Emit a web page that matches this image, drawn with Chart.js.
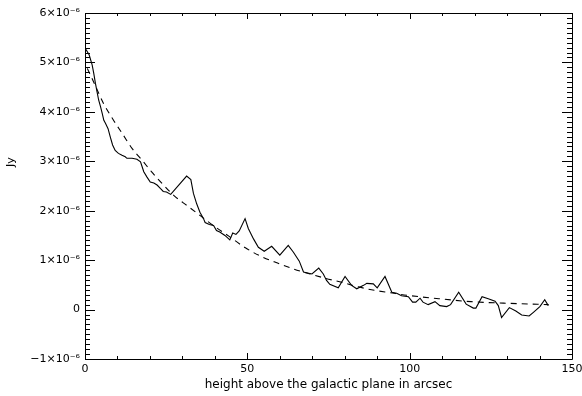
<!DOCTYPE html>
<html>
<head>
<meta charset="utf-8">
<script src="https://cdn.jsdelivr.net/npm/chart.js@4"></script>
<style>
  html, body { margin: 0; padding: 0; background: #ffffff; }
  #wrap { width: 582px; height: 396px; }
</style>
</head>
<body>
<div id="wrap"><canvas id="c" width="582" height="396"></canvas></div>
<script>
// Height above the galactic plane (arcsec)
const profileX = [0, 0.4, 1.3, 2.2, 2.7, 3.2, 3.7, 4.2, 4.8, 5.3, 5.8, 6.3, 7.1, 7.8, 8.5, 9.3, 10.3, 11.4, 12.4, 12.9,
  14.5, 16.0, 17.1, 17.6, 18.1, 19.1, 20.1, 21.2, 22.2, 23.2, 24.1, 25.1, 26.4, 31.3, 32.6, 33.4, 34.4, 35.4, 36.5, 37.0,
  38.3, 39.6, 40.5, 41.5, 43.1, 44.6, 45.5, 46.5, 47.5, 49.3, 50.3, 51.9, 53.4, 55.2, 57.5, 60.0, 62.6, 64.2, 66.0, 67.3,
  69.9, 72.0, 73.4, 74.4, 75.4, 78.0, 80.1, 82.1, 83.7, 85.8, 86.8, 88.8, 90.0, 92.4, 94.5, 96.0, 97.5, 99.6, 100.9, 101.9,
  103.2, 104.1, 105.7, 107.8, 109.3, 111.4, 112.6, 115.1, 117.4, 119.6, 120.4, 122.3, 124.2, 126.3, 127.3, 128.3, 130.7, 132.7, 134.5, 136.8,
  138.2, 140.1, 141.6, 142.7];
// Measured flux (units of 1e-6 Jy)
const profileY = [5.30, 5.25, 5.15, 4.95, 4.78, 4.58, 4.41, 4.24, 4.10, 3.97, 3.83, 3.77, 3.66, 3.49, 3.33, 3.22, 3.16, 3.12, 3.09, 3.06,
  3.06, 3.04, 2.99, 2.89, 2.79, 2.68, 2.58, 2.56, 2.52, 2.45, 2.39, 2.38, 2.33, 2.70, 2.63, 2.35, 2.14, 1.97, 1.84, 1.76,
  1.72, 1.70, 1.60, 1.57, 1.50, 1.41, 1.55, 1.52, 1.59, 1.84, 1.64, 1.43, 1.26, 1.18, 1.28, 1.10, 1.30, 1.16, 0.98, 0.76,
  0.72, 0.84, 0.72, 0.59, 0.51, 0.44, 0.67, 0.49, 0.42, 0.49, 0.53, 0.52, 0.44, 0.67, 0.35, 0.33, 0.28, 0.26, 0.15, 0.15,
  0.23, 0.15, 0.10, 0.16, 0.08, 0.06, 0.10, 0.35, 0.11, 0.03, 0.03, 0.26, 0.22, 0.17, 0.08, -0.16, 0.04, -0.03, -0.11, -0.13,
  -0.05, 0.06, 0.20, 0.08];
// Fitted curve (dashed)
const fitX = [0.7, 2.7, 5.7, 8.6, 11.6, 14.6, 17.6, 20.6, 23.5, 27.5, 31.5, 35.5, 39.5, 44.4, 49.4, 54.4, 59.3, 64.3, 69.3, 74.2,
  79.2, 84.2, 89.1, 94.1, 99.1, 109.0, 118.9, 128.9, 142.8];
const fitY = [4.88, 4.60, 4.17, 3.85, 3.55, 3.25, 3.02, 2.78, 2.57, 2.30, 2.10, 1.90, 1.70, 1.48, 1.25, 1.07, 0.94, 0.82, 0.72, 0.63,
  0.55, 0.46, 0.39, 0.34, 0.29, 0.22, 0.16, 0.13, 0.10];
// Axis ticks
const xTicks = [0, 50, 100, 150];
const yTicks = [-1, 0, 1, 2, 3, 4, 5, 6];
const sup = {'-': '\u207B', '0': '\u2070', '1': '\u00B9', '2': '\u00B2', '3': '\u00B3', '4': '\u2074', '5': '\u2075', '6': '\u2076', '7': '\u2077', '8': '\u2078', '9': '\u2079'};
const expo = '-6';
const expoStr = expo.split('').map(c => sup[c]).join('');
const xTitle = 'height above the galactic plane in arcsec';
const yTitle = 'Jy';

const FONT = "'DejaVu Sans', sans-serif";

const tickPlugin = {
  id: 'idlTicks',
  afterDraw(chart) {
    const ctx = chart.ctx;
    const a = chart.chartArea;
    const xs = chart.scales.x, ys = chart.scales.y;
    ctx.save();
    ctx.strokeStyle = '#000';
    ctx.lineWidth = 1;
    ctx.beginPath();
    ctx.rect(Math.round(a.left) + 0.5, Math.round(a.top) + 0.5, Math.round(a.right - a.left), Math.round(a.bottom - a.top));
    ctx.stroke();
    ctx.beginPath();
    for (let v = xs.min; v <= xs.max + 1e-9; v += 10) {
      const px = Math.round(xs.getPixelForValue(v)) + 0.5;
      const major = xTicks.includes(Math.round(v));
      const len = major ? 6 : 3;
      ctx.moveTo(px, a.bottom); ctx.lineTo(px, a.bottom - len);
      ctx.moveTo(px, a.top); ctx.lineTo(px, a.top + len);
    }
    for (let i = 0; i <= 70; i++) {
      const v = ys.min + i * 0.1;
      const py = Math.round(ys.getPixelForValue(v)) + 0.5;
      const len = (i % 10 === 0) ? 10 : 5;
      ctx.moveTo(a.left, py); ctx.lineTo(a.left + len, py);
      ctx.moveTo(a.right, py); ctx.lineTo(a.right - len, py);
    }
    ctx.stroke();
    // y-axis title
    ctx.fillStyle = '#000';
    ctx.font = "11px " + FONT;
    ctx.textAlign = 'center';
    ctx.textBaseline = 'middle';
    ctx.translate(11, 162);
    ctx.rotate(-Math.PI / 2);
    ctx.fillText(yTitle, 0, 0);
    ctx.restore();
  }
};

new Chart(document.getElementById('c'), {
  type: 'scatter',
  data: {
    datasets: [
      {
        label: 'profile',
        data: profileX.map((x, i) => ({x: x, y: profileY[i]})),
        showLine: true,
        borderColor: '#000',
        borderWidth: 1.1,
        pointRadius: 0,
        tension: 0
      },
      {
        label: 'fit',
        data: fitX.map((x, i) => ({x: x, y: fitY[i]})),
        showLine: true,
        borderColor: '#000',
        borderWidth: 1.1,
        borderDash: [6, 5],
        pointRadius: 0,
        tension: 0.4,
        cubicInterpolationMode: 'monotone'
      }
    ]
  },
  options: {
    responsive: false,
    animation: false,
    devicePixelRatio: 1,
    layout: { padding: { top: 13, right: 10, left: 0, bottom: 0 } },
    plugins: { legend: { display: false }, tooltip: { enabled: false } },
    scales: {
      x: {
        type: 'linear',
        min: 0, max: 150,
        afterFit(s) { s.height = 37; s.paddingRight = 0; s.paddingLeft = 0; },
        afterBuildTicks(s) { s.ticks = xTicks.map(v => ({value: v})); },
        grid: { display: false, drawTicks: false },
        border: { display: false },
        ticks: { color: '#000', font: { family: FONT, size: 11 }, padding: 4, maxRotation: 0 },
        title: { display: true, text: xTitle, color: '#000', font: { family: FONT, size: 12 }, padding: { top: 0, bottom: 4 } }
      },
      y: {
        type: 'linear',
        min: -1, max: 6,
        afterFit(s) { s.width = 85; },
        afterBuildTicks(s) { s.ticks = yTicks.map(v => ({value: v})); },
        grid: { display: false, drawTicks: false },
        border: { display: false },
        ticks: {
          color: '#000', font: { family: FONT, size: 11 }, padding: 5,
          callback: v => v === 0 ? '0' : (v < 0 ? '\u2212' + (-v) : v) + '\u00D710' + expoStr
        },
        title: { display: false }
      }
    }
  },
  plugins: [tickPlugin]
});
</script>
</body>
</html>
